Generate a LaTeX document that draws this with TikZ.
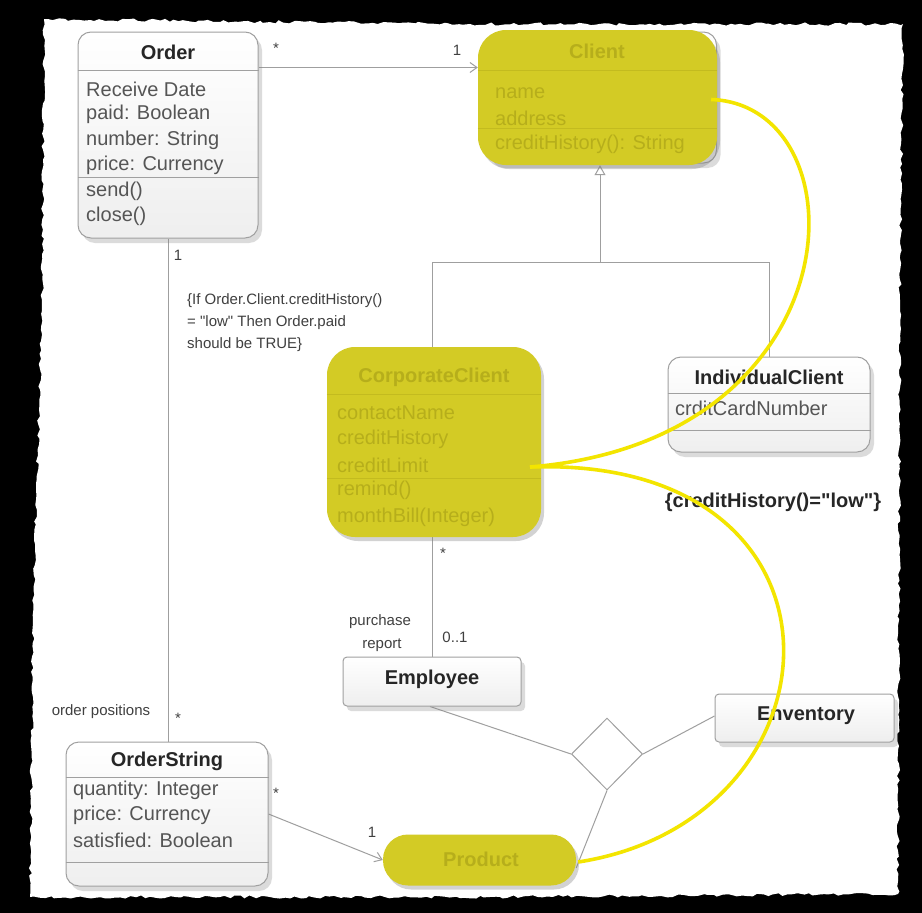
\documentclass[tikz,border=0pt]{standalone}
\usepackage{fontspec}
\setmainfont{Liberation Sans}
\newfontfamily\qf{Liberation Sans}
\usetikzlibrary{arrows.meta,shapes.geometric,shadows,decorations.pathmorphing,calc}
\pgfdeclarelayer{paper}\pgfdeclarelayer{bg}\pgfsetlayers{paper,bg,main}
\definecolor{hl}{HTML}{D3CB25}
\definecolor{hltext}{HTML}{B6AE1B}
\definecolor{hldiv}{HTML}{C3BB1F}
\definecolor{hlline}{HTML}{F3E500}
\definecolor{boxline}{HTML}{A0A0A0}
\definecolor{txt}{HTML}{555555}
\newcommand{\dq}{{\qf"}}
\tikzset{
 cls/.style={draw=boxline, line width=1pt, rounded corners=13pt, top color=white, bottom color=gray!13,
   drop shadow={opacity=0.28,shadow xshift=4pt,shadow yshift=-5pt}, inner sep=0pt},
 smallcls/.style={cls, rounded corners=4pt},
 yel/.style={fill=hl, draw=none, rounded corners=28pt, inner sep=0pt,
   drop shadow={opacity=0.35,shadow xshift=3pt,shadow yshift=-4pt}},
 ttl/.style={font=\fontsize{20}{20}\selectfont\bfseries, text=black!85, inner sep=0pt},
 yttl/.style={ttl, text=hltext},
 attr/.style={font=\fontsize{20}{20}\selectfont, text=txt, anchor=west, inner sep=0pt},
 yattr/.style={attr, text=hltext},
 div/.style={draw=boxline, line width=0.9pt},
 ydiv/.style={draw=hldiv, line width=1pt},
 conn/.style={draw=gray!75, line width=1pt},
 mult/.style={font=\fontsize{15}{15}\selectfont, text=black!75, inner sep=0pt},
 hlcurve/.style={draw=hlline, line width=3.6pt},
}
\begin{document}
\begin{tikzpicture}[x=1pt,y=-1pt]
\useasboundingbox (0,0) rectangle (922,913);
\begin{pgfonlayer}{paper}
\fill[black] (0,0) rectangle (922,913);
\fill[white, decorate, decoration={random steps,segment length=5pt,amplitude=1.6pt}]
  (44,19) -- (470,24) -- (903,24) -- (900,300) -- (898,894) -- (500,897) -- (30,897) -- (33,620) -- (42,300) -- cycle;
\end{pgfonlayer}

% ---------- Order ----------
\node[cls, minimum width=180pt, minimum height=206pt] (order) at (168,135) {};
\node[ttl] (orderT) at (168,52) {Order};
\draw[div] (order.west |- 0,70) -- (order.east |- 0,70);
\draw[div] (order.west |- 0,177) -- (order.east |- 0,177);
\node[attr] (o1) at (86,89) {Receive Date};
\node[attr] (o2) at (86,114) {paid: Boolean};
\node[attr] (o3) at (86,140) {number: String};
\node[attr] (o4) at (86,165) {price: Currency};
\node[attr] (o5) at (86,191) {send()};
\node[attr] (o6) at (86,216) {close()};

% ---------- Client (highlighted) ----------
\node[cls, minimum width=229pt, minimum height=131pt] (clientbox) at (602,97.5) {};
\node[yel, minimum width=239pt, minimum height=135pt] (client) at (597.5,97.5) {};
\node[yttl] (clientT) at (597,51) {Client};
\draw[ydiv] (client.west |- 0,70) -- (client.east |- 0,70);
\draw[ydiv] (client.west |- 0,128) -- (client.east |- 0,128);
\node[yattr] (c1) at (495,93) {name};
\node[yattr] (c2) at (495,118) {address};
\node[yattr] (c3) at (495,144) {creditHistory(): String};

% ---------- CorporateClient (highlighted) ----------
\node[yel, minimum width=214pt, minimum height=190pt] (corp) at (434,442) {};
\node[yttl] (corpT) at (434,377) {CorporateClient};
\draw[ydiv] (corp.west |- 0,394) -- (corp.east |- 0,394);
\draw[ydiv] (corp.west |- 0,478) -- (corp.east |- 0,478);
\node[yattr] (k1) at (337,413) {contactName};
\node[yattr] (k2) at (337,439) {creditHistory};
\node[yattr] (k3) at (337,465) {creditLimit};
\node[yattr] (k4) at (337,490) {remind()};
\node[yattr] (k5) at (337,517) {monthBill(Integer)};

% ---------- IndividualClient ----------
\node[cls, minimum width=202pt, minimum height=95pt] (indiv) at (769,404.5) {};
\node[ttl] (indivT) at (769,377) {IndividualClient};
\draw[div] (indiv.west |- 0,393) -- (indiv.east |- 0,393);
\draw[div] (indiv.west |- 0,430) -- (indiv.east |- 0,430);
\node[attr] (i1) at (675,408) {crditCardNumber};

% ---------- Employee / Enventory ----------
\node[smallcls, minimum width=178pt, minimum height=49pt] (employee) at (432,681.5) {};
\node[ttl] (employeeT) at (432,679) {Employee};
\node[smallcls, minimum width=179pt, minimum height=48pt] (enventory) at (804.5,718) {};
\node[ttl] (enventoryT) at (806,716) {Enventory};

% ---------- OrderString ----------
\node[cls, minimum width=202pt, minimum height=144pt] (ordstr) at (167,814) {};
\node[ttl] (ordstrT) at (167,761) {OrderString};
\draw[div] (ordstr.west |- 0,777) -- (ordstr.east |- 0,777);
\draw[div] (ordstr.west |- 0,862) -- (ordstr.east |- 0,862);
\node[attr] (s1) at (73,790) {quantity: Integer};
\node[attr] (s2) at (73,815) {price: Currency};
\node[attr] (s3) at (73,840) {satisfied: Boolean};

% ---------- Product (highlighted) ----------
\node[yel, rounded corners=25pt, minimum width=193pt, minimum height=51pt] (product) at (479.5,860) {};
\node[yttl] (productT) at (481,859) {Product};

% ---------- association diamond ----------
\node[diamond, draw=gray!75, line width=1pt, fill=white, minimum width=71pt, minimum height=72pt, inner sep=0pt] (dia) at (607,754) {};

% ---------- connectors ----------
\coordinate (gj) at (600,262);
\begin{pgfonlayer}{bg}
\draw[conn, -{Straight Barb[length=7pt,width=10pt]}] ([yshift=-36pt]order.north east) -- ([yshift=-36pt]order.north east -| client.west);
\draw[conn] (employee.north |- corp.north) |- (gj);
\draw[conn] (indiv.north) |- (gj);
\draw[conn, -{Triangle[open,length=10pt,width=11pt,fill=white]}] (gj) -- (gj |- client.south);
\draw[conn] (order.south) -- (order.south |- ordstr.north);
\draw[conn] (employee.north |- corp.south) -- (employee.north);
\draw[conn] ([xshift=-2pt]employee.south) -- (dia.west);
\draw[conn] (dia.east) -- ([yshift=2pt]enventory.west);
\draw[conn] (dia.south) -- ([yshift=-8pt]product.east);
\draw[conn, -{Straight Barb[length=7pt,width=10pt]}] (ordstr.east) -- (product.west);
\end{pgfonlayer}

% ---------- labels ----------
\node[mult] (m1) at (276,48) {*};
\node[mult] (m2) at (457,50) {1};
\node[mult] (m3) at (178,255) {1};
\node[mult] (m4) at (178,718) {*};
\node[mult] (m5) at (443,553) {*};
\node[mult] (m6) at (455,637) {0..1};
\node[mult] (m7) at (276,793) {*};
\node[mult] (m8) at (372,832) {1};
\node[mult] (op) at (101,712) {order positions};
\node[mult] (pr1) at (380,622) {purchase};
\node[mult] (pr2) at (382,645) {report};
\node[mult, anchor=north west, align=left, font=\fontsize{15}{22}\selectfont] (note) at (187,293)
  {\{If Order.Client.creditHistory()\\= \dq low\dq{} Then Order.paid\\should be TRUE\}};
\node[ttl] (cons) at (773,502) {\{creditHistory()=\dq low\dq\}};

% ---------- yellow highlight curves ----------
\coordinate (hj) at (530,467);
\draw[hlcurve] ([xshift=-6pt,yshift=-2pt]client.east) .. controls (865,105) and (860,440) .. (hj);
\draw[hlcurve] (hj) .. controls (870,455) and (850,820) .. ([xshift=2pt,yshift=-2pt]product.east);
\end{tikzpicture}
\end{document}
